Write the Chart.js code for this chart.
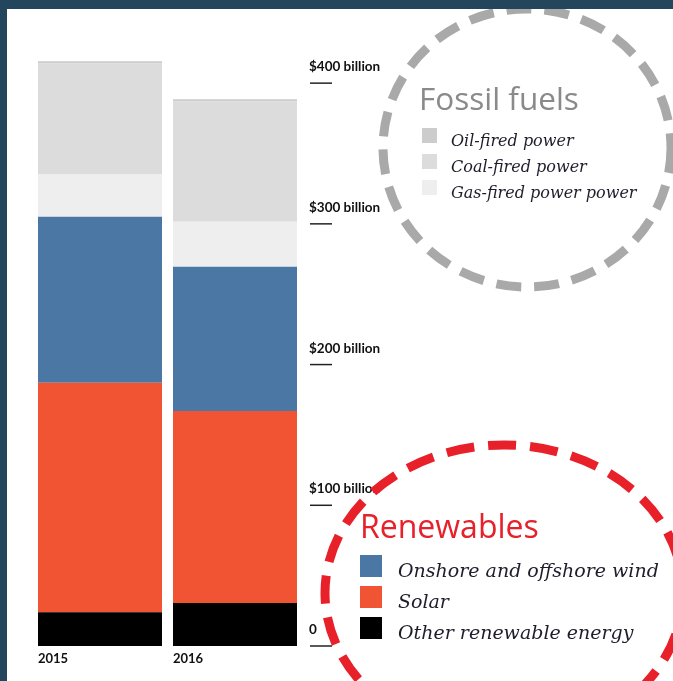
<!DOCTYPE html>
<html>
<head>
<meta charset="utf-8">
<script src="https://cdn.jsdelivr.net/npm/chart.js@4/dist/chart.umd.min.js"></script>
<style>
  html, body { margin: 0; padding: 0; background: #fff; }
  #wrap { position: relative; width: 673px; height: 681px; overflow: hidden; }
  .navy-top { position: absolute; left: 0; top: 0; width: 673px; height: 9px; background: #24465c; }
  .navy-left { position: absolute; left: 0; top: 0; width: 7px; height: 681px; background: #24465c; }
</style>
</head>
<body>
<div id="wrap">
  <canvas id="myChart" width="673" height="681"></canvas>
  <div class="navy-top"></div>
  <div class="navy-left"></div>
</div>
<script>
// data, in $ billion
const years = ['2015', '2016'];
const otherRenewable = [24, 30.5];
const solar = [163, 136.5];
const wind = [118, 102.5];
const gasFired = [30, 32];
const coalFired = [79, 85.5];
const oilFired = [1.5, 1.5];

const yTickValues = [0, 100, 200, 300, 400];
const yTickLabels = ['0', '$100 billion', '$200 billion', '$300 billion', '$400 billion'];

const fossilGroup = ['Oil-fired power', 'Coal-fired power', 'Gas-fired power power'];
const renewGroup = ['Onshore and offshore wind', 'Solar', 'Other renewable energy'];

// axis labels, legends and the two dashed rings
const overlay = {
  id: 'overlay',
  afterDraw(chart) {
    const c = chart.ctx;
    const y = chart.scales.y;
    c.save();

    c.font = 'bold 13.5px Lato';
    c.textAlign = 'left';
    c.textBaseline = 'alphabetic';
    yTickValues.forEach((v, i) => {
      const py = y.getPixelForValue(v);
      c.fillStyle = '#111';
      c.fillText(yTickLabels[i], 309, py - 12);
      c.strokeStyle = '#222';
      c.lineWidth = 1.5;
      c.beginPath();
      c.moveTo(310, py);
      c.lineTo(332, py);
      c.stroke();
    });

    const find = name => chart.data.datasets.find(d => d.label === name);

    // fossil fuels legend
    c.font = '31.5px "Open Sans"';
    c.fillStyle = '#8a8a8a';
    c.fillText('Fossil fuels', 419, 110);
    c.font = 'italic 16px "DejaVu Serif"';
    fossilGroup.forEach((name, i) => {
      const top = 128 + i * 26;
      c.fillStyle = find(name).backgroundColor;
      c.fillRect(422, top, 15, 15);
      c.fillStyle = '#1d1d2b';
      c.fillText(name, 451, top + 18);
    });

    // renewables legend
    c.font = '32px "Open Sans"';
    c.fillStyle = '#e8202a';
    c.fillText('Renewables', 360, 538);
    c.font = 'italic 19px "DejaVu Serif"';
    renewGroup.forEach((name, i) => {
      const top = 555 + i * 31;
      c.fillStyle = find(name).backgroundColor;
      c.fillRect(360, top, 22, 22);
      c.fillStyle = '#1d1d2b';
      c.fillText(name, 398, top + 22);
    });

    // dashed rings
    c.lineWidth = 9;
    c.setLineDash([25, 13]);
    c.strokeStyle = '#a9a9a9';
    c.beginPath();
    c.ellipse(527, 148, 144, 139, 0, 0, Math.PI * 2);
    c.stroke();

    c.lineWidth = 9;
    c.setLineDash([28, 14]);
    c.strokeStyle = '#e8202a';
    c.beginPath();
    c.ellipse(504, 593, 179, 148, 0, 0, Math.PI * 2);
    c.stroke();

    c.restore();
  }
};

const ctx = document.getElementById('myChart');

new Chart(ctx, {
  type: 'bar',
  data: {
    labels: years,
    datasets: [
      { label: 'Other renewable energy', data: otherRenewable, backgroundColor: '#000000' },
      { label: 'Solar', data: solar, backgroundColor: '#f15432' },
      { label: 'Onshore and offshore wind', data: wind, backgroundColor: '#4b77a5' },
      { label: 'Gas-fired power power', data: gasFired, backgroundColor: '#eeeeee' },
      { label: 'Coal-fired power', data: coalFired, backgroundColor: '#dcdcdc' },
      { label: 'Oil-fired power', data: oilFired, backgroundColor: '#cccccc' }
    ]
  },
  options: {
    responsive: false,
    animation: false,
    barPercentage: 0.9185,
    categoryPercentage: 1,
    borderWidth: 0,
    layout: { padding: { left: 32.5, right: 370.5, top: 55, bottom: 0 } },
    plugins: { legend: { display: false }, tooltip: { enabled: false } },
    scales: {
      x: {
        stacked: true,
        grid: { display: false, drawTicks: false },
        border: { display: false },
        ticks: {
          align: 'start',
          labelOffset: -62,
          padding: 5,
          maxRotation: 0,
          color: '#111',
          font: { family: 'Lato', weight: 'bold', size: 13 }
        },
        afterFit(scale) { scale.height = 35; }
      },
      y: {
        stacked: true,
        display: false,
        min: 0,
        max: 420
      }
    }
  },
  plugins: [overlay]
});
</script>
</body>
</html>
